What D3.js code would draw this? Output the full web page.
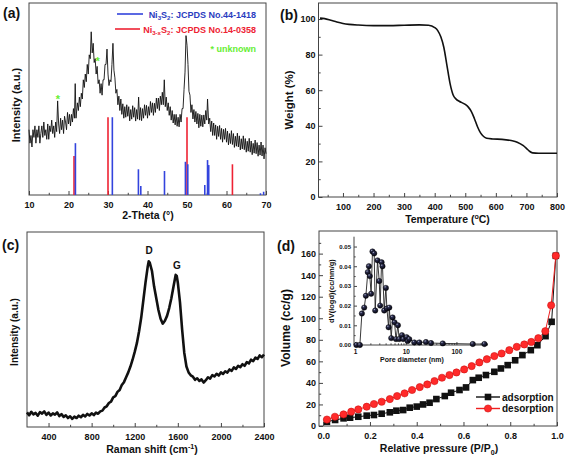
<!DOCTYPE html>
<html><head><meta charset="utf-8">
<script src="https://cdn.jsdelivr.net/npm/d3@7"></script>
<style>
body{margin:0;background:#fff}
text{font-family:"Liberation Sans",Arial,sans-serif;font-weight:bold}
</style>
</head><body>
<svg id="c" width="567" height="458"></svg>
<script>
// ---------- DATA ----------
// (a) XRD pattern: 2-theta and intensity (a.u.)
const xrdTheta = [10,10.25,10.5,10.75,11,11.25,11.5,11.75,12,12.25,12.5,12.75,13,13.25,13.5,13.75,14,14.25,14.5,14.75,15,15.25,15.5,15.75,16,16.25,16.5,16.75,17,17.25,17.5,17.75,18,18.25,18.5,18.75,19,19.25,19.5,19.75,20,20.25,20.5,20.75,21,21.25,21.5,21.7,21.9,22.25,22.5,22.75,23,23.25,23.5,23.75,24,24.25,24.5,24.75,25,25.25,25.5,25.75,26,26.25,26.5,26.75,27,27.25,27.5,27.75,28,28.25,28.5,28.75,29,29.25,29.5,29.75,30,30.25,30.5,30.75,31,31.25,31.5,31.75,32,32.25,32.5,32.75,33,33.25,33.5,33.75,34,34.25,34.5,34.75,35,35.25,35.5,35.75,36,36.25,36.5,36.75,37,37.25,37.5,37.75,38,38.25,38.5,38.75,39,39.25,39.5,39.75,40,40.25,40.5,40.75,41,41.25,41.5,41.75,42,42.25,42.5,42.75,43,43.25,43.5,43.75,44,44.25,44.5,44.75,45,45.25,45.5,45.75,46,46.25,46.5,46.75,47,47.25,47.5,47.75,48,48.25,48.5,48.75,49,49.25,49.5,49.75,50,50.25,50.5,50.75,51,51.25,51.5,51.75,52,52.25,52.5,52.75,53,53.25,53.5,53.75,54,54.25,54.5,54.75,55,55.2,55.5,55.75,56,56.25,56.5,56.75,57,57.25,57.5,57.75,58,58.25,58.5,58.75,59,59.25,59.5,59.75,60,60.25,60.5,60.75,61,61.25,61.5,61.75,62,62.25,62.5,62.75,63,63.25,63.5,63.75,64,64.25,64.5,64.75,65,65.25,65.5,65.75,66,66.25,66.5,66.75,67,67.25,67.5,67.75,68,68.25,68.5,68.75,69,69.25,69.5,69.75,70];
const xrdIntensity = [34,27,31,25,34,30,36,27,34,30,36,27,32,36,30,38,31,34,29,37,29,36,33,39,32,36,30,38,33,49,37,32,40,34,39,32,41,38,34,43,37,42,36,42,38,45,40,58,40,48,44,51,46,53,50,60,56,63,59,68,63,73,71,85,74,79,69,71,63,67,58,60,53,58,52,60,60,68,68,76,63,57,60,59,68,79,65,61,53,55,47,51.5,44,50,42,47.5,40,46,40.5,47,41,46,38.6,44.5,39.5,46.5,40.5,45.5,38.5,44.5,39.5,51,39,45.5,38.7,45,40,47,41.5,46.7,40,46,41.5,48.7,43,48,41.5,47.8,43,50.5,45,50.5,44,51.5,47,53.5,47,60,46,51,44,48,41.5,46,39,44,37.5,42,36.5,42,35.8,40.5,35.5,42,38,45,45,55,64,83,78,68,54,52,43,47,39.6,44.5,38,43.5,37,42.5,35,42,35.8,41.6,35.5,41.7,37,44,39,50,37,40,33,38.5,31,37.5,31,36.5,29,35.8,30.5,36.2,29,34.7,27.5,34.2,29,34.7,27.5,33.3,26.1,32,26.8,33.5,26.3,32,24.8,30.6,25.4,32.2,25,30.8,23.5,29.3,24,30.8,23.6,29.4,22.3,28,22.8,29.5,22.3,28.1,21,26.9,21.8,28.6,21.5,27.3,20.2,26,20.8,27.6,20.3,26,18.8,24.6,21.5];
// reference lines [2-theta, relative height]
const ni3s2Lines = [[21.75,27],[31.1,40.5],[37.7,13.4],[38.3,4.7],[44.3,12.5],[49.6,17.3],[50.2,16],[54.5,5.2],[55.2,18.2],[55.5,15.6],[68.6,0.9],[69.4,1.7]];
const ni3xs2Lines = [[21.4,20.3],[30.0,40.5],[50.0,40.5],[61.5,16]];
const unknownPeaks = [[17.3,51],[27.4,71]];
const xrdTicks = [10,20,30,40,50,60,70];

// (b) TGA
const tgaTemp   = [25,40,60,80,100,120,150,200,250,300,350,380,400,410,420,430,440,450,460,470,480,500,510,520,530,540,550,560,570,590,620,650,670,690,700,710,720,740,800];
const tgaWeight = [100.5,100.2,99.3,98.3,97.5,97.0,96.6,96.3,96.3,96.5,96.7,96.5,95.2,93.5,90,84,74,64,57.5,55,53.8,52,50.5,48,44,39.5,36,34,33,32.6,32.4,31.7,30.8,28.8,27.3,25.7,24.8,24.6,24.6];
const tgaXTicks = [100,200,300,400,500,600,700,800];
const tgaYTicks = [0,20,40,60,80,100];

// (c) Raman
const ramanShift = [200,220,240,260,280,300,320,340,360,380,400,420,440,460,480,500,520,540,560,580,600,620,640,660,680,700,720,740,760,780,800,820,840,860,880,900,920,940,960,980,1000,1020,1040,1060,1080,1100,1120,1140,1160,1180,1200,1220,1240,1260,1280,1300,1320,1330,1340,1360,1380,1400,1420,1440,1460,1480,1500,1520,1540,1560,1580,1590,1600,1620,1640,1660,1680,1700,1720,1740,1760,1780,1800,1820,1840,1860,1880,1900,1920,1940,1960,1980,2000,2020,2040,2060,2080,2100,2120,2140,2160,2180,2200,2220,2240,2260,2280,2300,2320,2340,2360,2380,2400];
const ramanIntensity = [7.5,6.0,7.8,6.5,7.2,5.8,7.6,6.9,8.0,6.2,7.4,5.9,7.0,6.3,7.5,5.6,6.6,5.2,6.0,4.6,5.5,4.2,5.3,4.6,5.8,5.0,6.2,5.4,6.7,5.9,7.0,6.1,7.4,6.8,8.0,8.4,10.0,10.6,12.3,13.0,15.2,15.8,18.0,19.0,21.5,23.0,25.5,28.0,31.0,34.5,38.5,43,49,56,65,74,82,85,84.2,80,72,66,60,55.5,53,54.5,57,61,66,72,78,77.5,74,64,50,38,31,28,26.5,25.8,24.2,25.0,23.6,24.4,22.8,24.0,25.5,24.8,26.6,25.9,27.3,26.4,28.0,27.2,28.6,27.9,29.5,28.8,30.6,29.8,31.4,30.7,32.2,31.4,33.3,32.6,34.5,33.8,35.6,34.9,36.7,35.8,37.2];
const ramanTicks = [400,800,1200,1600,2000,2400];

// (d) N2 isotherm
const adsP = [0.016,0.051,0.087,0.115,0.15,0.186,0.217,0.25,0.285,0.313,0.342,0.37,0.4,0.427,0.455,0.484,0.52,0.547,0.583,0.611,0.64,0.665,0.696,0.732,0.76,0.789,0.821,0.852,0.888,0.916,0.951,0.977,0.995];
const adsV = [4,5.6,7.1,7.7,8.6,9.6,10.2,11.4,12.7,14.2,14.8,17,18,20,21.6,25,27.8,30.9,33.4,35.8,42.6,44.8,47.3,50.3,53.4,56.5,61,65.8,70.4,75,83.4,96.7,158];
const desP = [0.016,0.05,0.087,0.12,0.15,0.186,0.217,0.25,0.285,0.316,0.348,0.38,0.413,0.445,0.476,0.508,0.54,0.57,0.603,0.635,0.668,0.7,0.732,0.763,0.796,0.828,0.86,0.89,0.92,0.95,0.975,0.995];
const desV = [6,8.6,10.8,13.3,15.4,17.9,20.4,22.5,25,27.8,30.3,33.4,36.1,38.6,41.7,44.8,47.3,49.7,52.5,55.6,59,62,64.9,67.3,70.4,73.5,75.7,78,81.5,88,112,158];
const betXTicks = [0,0.2,0.4,0.6,0.8,1.0];
const betYTicks = [0,20,40,60,80,100,120,140,160];
// inset pore size distribution
const poreD  = [1.06,1.24,1.36,1.51,1.63,1.78,1.87,1.95,2.07,2.2,2.38,2.49,2.77,2.99,3.12,3.33,3.47,3.75,4.05,4.24,4.58,4.73,5.16,5.49,6.0,6.4,7.0,7.4,8.4,8.9,10.4,10.9,11.7,14.7,18.5,25,31.5,53.7,210,357];
const poreDV = [0,0,0.016,0.019,0.025,0.037,0.040,0.035,0.026,0.0475,0.0465,0.0175,0.043,0.0325,0.020,0.042,0.040,0.0175,0.029,0.0185,0.009,0.019,0.0035,0.014,0.0115,0.003,0.010,0.003,0.005,0.003,0.004,0.002,0.003,0.0013,0.0013,0.0015,0.001,0.0008,0.0005,0.0005];
const insetYTicks = [0,0.01,0.02,0.03,0.04,0.05];

// ---------- DRAW ----------
const svg = d3.select('#c');
svg.append('rect').attr('width',567).attr('height',458).attr('fill','#fff');
const AX = '#444';

function frame(x0,y0,x1,y1){
  svg.append('rect').attr('x',x0).attr('y',y0).attr('width',x1-x0).attr('height',y1-y0)
    .attr('fill','none').attr('stroke',AX).attr('stroke-width',1);
}
function styleAxis(g,fs){
  g.select('.domain').remove();
  g.selectAll('line').attr('stroke',AX);
  g.selectAll('text').attr('font-size',fs).attr('fill','#111')
   .attr('font-family','"Liberation Sans",Arial,sans-serif').attr('font-weight','bold');
}
function bottomAxis(scale,y,major,minor,fmt,opt={}){
  const fs=opt.fs||9, ms=opt.ms||4, pad=opt.pad||7;
  const g=svg.append('g').attr('transform',`translate(0,${y})`)
    .call(d3.axisBottom(scale).tickValues(major).tickSize(-ms).tickPadding(pad).tickFormat(fmt));
  styleAxis(g,fs);
  if(minor){
    const m=svg.append('g').attr('transform',`translate(0,${y})`)
      .call(d3.axisBottom(scale).tickValues(minor).tickSize(-ms*0.55).tickFormat(''));
    styleAxis(m,fs);
  }
}
function leftAxis(scale,x,major,minor,fmt,opt={}){
  const fs=opt.fs||9, ms=opt.ms||4, pad=opt.pad||3;
  const g=svg.append('g').attr('transform',`translate(${x},0)`)
    .call(d3.axisLeft(scale).tickValues(major).tickSize(-ms).tickPadding(pad).tickFormat(fmt));
  styleAxis(g,fs);
  if(minor){
    const m=svg.append('g').attr('transform',`translate(${x},0)`)
      .call(d3.axisLeft(scale).tickValues(minor).tickSize(-ms*0.55).tickFormat(''));
    styleAxis(m,fs);
  }
}
function txt(x,y,s,fs,opt={}){
  const t=svg.append('text').attr('x',x).attr('y',y).attr('font-size',fs)
    .attr('fill',opt.fill||'#111').attr('text-anchor',opt.anchor||'start');
  if(opt.rot) t.attr('transform',`rotate(-90,${x},${y})`);
  if(typeof s==='string') t.text(s); else s(t);
  return t;
}
function runs(t,parts,fs){
  let shift=0;
  parts.forEach(([s,m])=>{
    const target = m===1? fs*0.3 : m===2? -fs*0.38 : 0;
    const sp=t.append('tspan').attr('dy',target-shift).text(s);
    if(m) sp.attr('font-size',fs*0.68);
    shift=target;
  });
}

// ===== Panel (a) =====
const xA=d3.scaleLinear([10,70],[29,266]);
const yA=d3.scaleLinear([0,100],[195,3]);
frame(29,3,266,195);
bottomAxis(xA,195,xrdTicks,[15,25,35,45,55,65],d3.format('d'));
const lineA=d3.line().x((d,i)=>xA(xrdTheta[i])).y(d=>yA(d));
svg.append('path').datum(xrdIntensity).attr('d',lineA).attr('fill','none')
  .attr('stroke','#111').attr('stroke-width',0.9).attr('stroke-linejoin','round');
svg.append('g').selectAll('line').data(ni3xs2Lines).join('line')
  .attr('x1',d=>xA(d[0])).attr('x2',d=>xA(d[0])).attr('y1',yA(0)).attr('y2',d=>yA(d[1]))
  .attr('stroke','#ee2233').attr('stroke-width',1.6);
svg.append('g').selectAll('line').data(ni3s2Lines).join('line')
  .attr('x1',d=>xA(d[0])).attr('x2',d=>xA(d[0])).attr('y1',yA(0)).attr('y2',d=>yA(d[1]))
  .attr('stroke','#3344dd').attr('stroke-width',1.6);
svg.append('g').selectAll('text').data(unknownPeaks).join('text')
  .attr('x',d=>xA(d[0])).attr('y',d=>yA(d[1])+6).attr('text-anchor','middle')
  .attr('font-size',11).attr('fill','#66ee33').text('*');
// legend
svg.append('line').attr('x1',117).attr('x2',143).attr('y1',14).attr('y2',14).attr('stroke','#3344dd').attr('stroke-width',1.6);
svg.append('line').attr('x1',115).attr('x2',140).attr('y1',29).attr('y2',29).attr('stroke','#ee2233').attr('stroke-width',1.6);
txt(256,17.5,t=>runs(t,[['Ni',0],['3',1],['S',0],['2',1],[':  JCPDS No.44-1418',0]],9),9,{anchor:'end',fill:'#2a3cc0'});
txt(256,32.5,t=>runs(t,[['Ni',0],['3-x',1],['S',0],['2',1],[':  JCPDS No.14-0358',0]],9),9,{anchor:'end',fill:'#ee2233'});
txt(256,51.5,'* unknown',9,{anchor:'end',fill:'#66ee33'});
txt(20,105,'Intensity (a.u.)',11,{anchor:'middle',rot:true});
txt(148,219,'2-Theta (°)',10.5,{anchor:'middle'});
txt(3,18,'(a)',14);

// ===== Panel (b) =====
const xB=d3.scaleLinear([20,800],[318.5,557]);
const yB=d3.scaleLinear([0,109],[197,3]);
frame(318.5,3,557,197);
bottomAxis(xB,197,tgaXTicks,[50,150,250,350,450,550,650,750],d3.format('d'));
leftAxis(yB,318.5,tgaYTicks,[10,30,50,70,90],d3.format('d'));
const lineB=d3.line().x((d,i)=>xB(tgaTemp[i])).y(d=>yB(d)).curve(d3.curveMonotoneX);
svg.append('path').datum(tgaWeight).attr('d',lineB).attr('fill','none')
  .attr('stroke','#111').attr('stroke-width',1.6);
txt(293,100,'Weight (%)',11.5,{anchor:'middle',rot:true});
txt(447.5,223,t=>runs(t,[['Temperature (',0],['o',2],['C)',0]],10.5),10.5,{anchor:'middle'});
txt(280,20,'(b)',14);

// ===== Panel (c) =====
const xC=d3.scaleLinear([200,2400],[27,264]);
const yC=d3.scaleLinear([0,100],[427,232]);
frame(27,232,264,427);
bottomAxis(xC,427,ramanTicks,[600,1000,1400,1800,2200],d3.format('d'));
const lineC=d3.line().x((d,i)=>xC(ramanShift[i])).y(d=>yC(d));
svg.append('path').datum(ramanIntensity).attr('d',lineC).attr('fill','none')
  .attr('stroke','#111').attr('stroke-width',2.6).attr('stroke-linejoin','round');
txt(149,254,'D',10,{anchor:'middle'});
txt(177,269,'G',10,{anchor:'middle'});
txt(18,332,'Intensity (a.u.)',10,{anchor:'middle',rot:true});
txt(152,453,t=>runs(t,[['Raman shift (cm',0],['-1',2],[')',0]],10.5),10.5,{anchor:'middle'});
txt(2,250,'(c)',14);

// ===== Panel (d) =====
const xD=d3.scaleLinear([-0.018,1.0],[319,557]);
const yD=d3.scaleLinear([0,181],[426,231]);
frame(319,231,557,426);
bottomAxis(xD,426,betXTicks,[0.1,0.3,0.5,0.7,0.9],d3.format('.1f'));
leftAxis(yD,319,betYTicks,[10,30,50,70,90,110,130,150,170],d3.format('d'));
const adsData=adsP.map((p,i)=>[p,adsV[i]]);
const desData=desP.map((p,i)=>[p,desV[i]]);
const lineD=d3.line().x(d=>xD(d[0])).y(d=>yD(d[1]));
svg.append('path').datum(adsData).attr('d',lineD).attr('fill','none').attr('stroke','#111').attr('stroke-width',1);
svg.append('path').datum(desData).attr('d',lineD).attr('fill','none').attr('stroke','#ee2020').attr('stroke-width',1);
svg.append('g').selectAll('rect').data(adsData).join('rect')
  .attr('x',d=>xD(d[0])-3.3).attr('y',d=>yD(d[1])-3.3).attr('width',6.6).attr('height',6.6)
  .attr('fill','#111');
svg.append('g').selectAll('circle').data(desData).join('circle')
  .attr('cx',d=>xD(d[0])).attr('cy',d=>yD(d[1])).attr('r',3.6)
  .attr('fill','#ff2a2a').attr('stroke','#d01010').attr('stroke-width',0.6);
// legend
svg.append('line').attr('x1',476).attr('x2',500).attr('y1',397).attr('y2',397).attr('stroke','#111').attr('stroke-width',1.4);
svg.append('rect').attr('x',488-3.3).attr('y',397-3.3).attr('width',6.6).attr('height',6.6).attr('fill','#111');
svg.append('line').attr('x1',476).attr('x2',500).attr('y1',408.5).attr('y2',408.5).attr('stroke','#ee2020').attr('stroke-width',1.4);
svg.append('circle').attr('cx',488).attr('cy',408.5).attr('r',3.6).attr('fill','#ff2a2a').attr('stroke','#d01010').attr('stroke-width',0.6);
txt(502,400.5,'adsorption',10);
txt(502,412,'desorption',10);
txt(290,328,'Volume (cc/g)',12,{anchor:'middle',rot:true});
txt(439,452,t=>runs(t,[['Relative pressure (P/P',0],['0',1],[')',0]],10.5),10.5,{anchor:'middle'});
txt(277,251,'(d)',14);

// ===== Inset =====
const xI=d3.scaleLog([0.95,420],[354,488]);
const yI=d3.scaleLinear([0,0.055],[345,236.7]);
svg.append('line').attr('x1',354).attr('x2',354).attr('y1',236.7).attr('y2',345).attr('stroke',AX);
svg.append('line').attr('x1',354).attr('x2',488).attr('y1',345).attr('y2',345).attr('stroke',AX);
bottomAxis(xI,345,[1,10,100],[2,3,4,5,6,7,8,9,20,30,40,50,60,70,80,90,200,300,400],d3.format('d'),{fs:6.5,ms:3,pad:4});
leftAxis(yI,354,insetYTicks,[0.005,0.015,0.025,0.035,0.045],d3.format('.2f'),{fs:6,ms:3,pad:3});
const defs=svg.append('defs');
const gr=defs.append('radialGradient').attr('id','ball').attr('cx','35%').attr('cy','30%').attr('r','70%');
gr.append('stop').attr('offset','0%').attr('stop-color','#a8aec8');
gr.append('stop').attr('offset','30%').attr('stop-color','#2a2c4c');
gr.append('stop').attr('offset','100%').attr('stop-color','#04040e');
const poreData=poreD.map((d,i)=>[d,poreDV[i]]);
const lineI=d3.line().x(d=>xI(d[0])).y(d=>yI(d[1]));
svg.append('path').datum(poreData).attr('d',lineI).attr('fill','none').attr('stroke','#222').attr('stroke-width',0.9);
svg.append('g').selectAll('circle').data(poreData).join('circle')
  .attr('cx',d=>xI(d[0])).attr('cy',d=>yI(d[1])).attr('r',2.7)
  .attr('fill','url(#ball)').attr('stroke','#000').attr('stroke-width',0.4);
txt(334,291,'dV(logd)(cc/nm/g)',7.5,{anchor:'middle',rot:true});
txt(412,362,'Pore diameter (nm)',7,{anchor:'middle'});
</script>
</body></html>
